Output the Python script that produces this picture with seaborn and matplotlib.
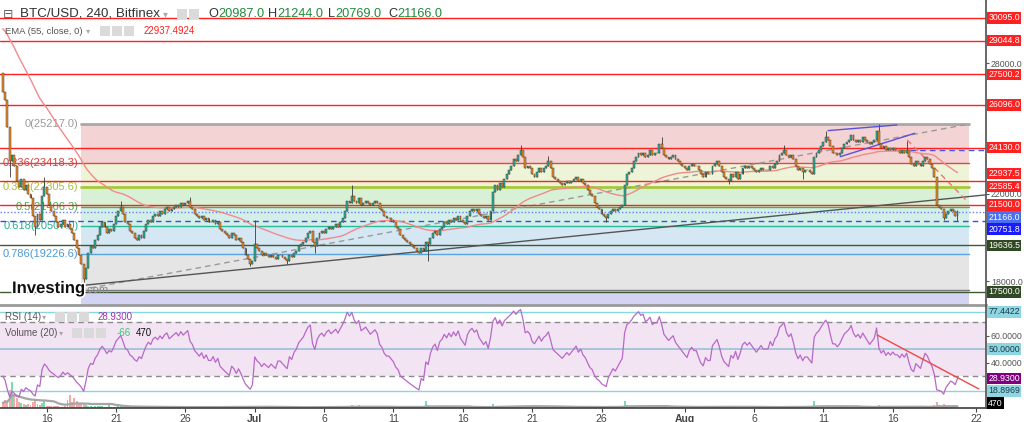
import numpy as np
import pandas as pd
import matplotlib
matplotlib.use("Agg")
import matplotlib.pyplot as plt
import matplotlib.dates as mdates
import matplotlib.patheffects as pe
from matplotlib.patches import Rectangle
import seaborn as sns

# ---------------- data (4h candles, BTC/USD Bitfinex) ----------------
first_open = 27560
closes = [
    26700,                                      # Jun 12 20:00
    26300, 25100, 23500, 23800, 23300, 22600,   # Jun 13
    22300, 22700, 22200, 22400, 22000, 21800,   # Jun 14
    21000, 20500, 21100, 20800, 21900, 22300,   # Jun 15
    22000, 21500, 21200, 21000, 20700, 20500,   # Jun 16
    20600, 20800, 20500, 20600, 20400, 20200,   # Jun 17
    19900, 19500, 19200, 18800, 18100, 18600,   # Jun 18
    19300, 19600, 19500, 19900, 20100, 20500,   # Jun 19
    20700, 20500, 20200, 20400, 20300, 20600,   # Jun 20
    21000, 21200, 21400, 21100, 20700, 20600,   # Jun 21
    20300, 20200, 20000, 19900, 20100, 20000,   # Jun 22
    20300, 20600, 20800, 20700, 21000, 21100,   # Jun 23
    21000, 21200, 21100, 21300, 21400, 21200,   # Jun 24
    21300, 21400, 21500, 21400, 21600, 21500,   # Jun 25
    21600, 21700, 21400, 21300, 21100, 21000,   # Jun 26
    20900, 21000, 20800, 20900, 20700, 20700,   # Jun 27
    20800, 20600, 20700, 20400, 20300, 20200,   # Jun 28
    20100, 20000, 20200, 20100, 19900, 20000,   # Jun 29
    19800, 19500, 19200, 19000, 18800, 18900,   # Jun 30
    19700, 19500, 19400, 19200, 19300, 19200,   # Jul 1
    19100, 19200, 19100, 19000, 19200, 19200,   # Jul 2
    19100, 19000, 18900, 19200, 19100, 19300,   # Jul 3
    19400, 19600, 19700, 19800, 20000, 20200,   # Jul 4
    20300, 19800, 19600, 20000, 20200, 20300,   # Jul 5
    20200, 20400, 20500, 20400, 20500, 20600,   # Jul 6
    20500, 20700, 20900, 21200, 21700, 21600,   # Jul 7
    21900, 21700, 21600, 21800, 21500, 21600,   # Jul 8
    21700, 21600, 21500, 21600, 21700, 21600,   # Jul 9
    21300, 21200, 21000, 20900, 20900, 20800,   # Jul 10
    20700, 20500, 20400, 20100, 20000, 19900,   # Jul 11
    19800, 19700, 19600, 19500, 19400, 19300,   # Jul 12
    19500, 19400, 19800, 19700, 20000, 20200,   # Jul 13
    20300, 20100, 20400, 20500, 20700, 20600,   # Jul 14
    20800, 20700, 20900, 20800, 21000, 20800,   # Jul 15
    20700, 20600, 21000, 21200, 21300, 21200,   # Jul 16
    21300, 21100, 21000, 20900, 21000, 20800,   # Jul 17
    21200, 22100, 22400, 22200, 22500, 22300,   # Jul 18
    22700, 22900, 23100, 23300, 23600, 23500,   # Jul 19
    23800, 24000, 23700, 23200, 23300, 23200,   # Jul 20
    22900, 22800, 23000, 23200, 23000, 23200,   # Jul 21
    23300, 23500, 23200, 22800, 22700, 22600,   # Jul 22
    22500, 22400, 22500, 22600, 22500, 22600,   # Jul 23
    22700, 22800, 22600, 22700, 22500, 22400,   # Jul 24
    22200, 22000, 21900, 21600, 21400, 21300,   # Jul 25
    21100, 21000, 20900, 21100, 21200, 21300,   # Jul 26
    21200, 21300, 21400, 21500, 22400, 22900,   # Jul 27
    23000, 23200, 23500, 23700, 23900, 23800,   # Jul 28
    23900, 23700, 23800, 24000, 23800, 23900,   # Jul 29
    23900, 24300, 24100, 23800, 23700, 23600,   # Jul 30
    23700, 23800, 23600, 23500, 23400, 23300,   # Jul 31
    23200, 23100, 23300, 23400, 23300, 23300,   # Aug 1
    23100, 22900, 22800, 23000, 22900, 22900,   # Aug 2
    23300, 23400, 23500, 23300, 23000, 22800,   # Aug 3
    22700, 22600, 22900, 22800, 23000, 22700,   # Aug 4
    22900, 23200, 23300, 23200, 23300, 23200,   # Aug 5
    23100, 23000, 23100, 23200, 23100, 23100,   # Aug 6
    23100, 23300, 23200, 23400, 23500, 23800,   # Aug 7
    23900, 24000, 23800, 23700, 23800, 23600,   # Aug 8
    23300, 23100, 23200, 23000, 23100, 23100,   # Aug 9
    23000, 22900, 23700, 23900, 24000, 24200,   # Aug 10
    24400, 24600, 24500, 24200, 23900, 23900,   # Aug 11
    23800, 23900, 24100, 24300, 24400, 24500,   # Aug 12
    24700, 24500, 24400, 24500, 24400, 24600,   # Aug 13
    24500, 24400, 24300, 24400, 24500, 24900,   # Aug 14
    24300, 24100, 24200, 24000, 24100, 24000,   # Aug 15
    24100, 24000, 24000, 23900, 24000, 23900,   # Aug 16
    24000, 23700, 23400, 23300, 23500, 23400,   # Aug 17
    23300, 23500, 23700, 23600, 23400, 23200,   # Aug 18
    22800, 21500, 21400, 21300, 20900, 21100,   # Aug 19
    21200, 21300, 21200, 20987, 21166,          # Aug 20
]
volumes = [
    2500,
    4000, 3000, 9000, 13000, 7000, 5000,
    3000, 2500, 2000, 1500, 2000, 1500,
    3000, 3500, 2000, 1500, 2500, 4000,
    1200, 900, 800, 1000, 1100, 900,
    700, 600, 800, 4000, 6500, 3000,
    5000, 3500, 2500, 2000, 2500, 1500,
    1200, 900, 700, 800, 1000, 900,
    800, 600, 700, 1500, 600, 500,
    700, 900, 1000, 600, 800, 500,
    500, 400, 600, 700, 500, 400,
    400, 500, 600, 500, 700, 400,
    500, 600, 400, 500, 600, 300,
    300, 400, 500, 400, 500, 300,
    400, 600, 500, 400, 500, 400,
    500, 400, 600, 500, 400, 500,
    400, 500, 700, 600, 500, 400,
    500, 400, 600, 700, 500, 400,
    600, 700, 800, 900, 700, 600,
    1200, 800, 600, 700, 500, 400,
    300, 300, 400, 300, 300, 200,
    300, 400, 300, 400, 300, 300,
    400, 500, 400, 600, 500, 400,
    600, 700, 500, 600, 500, 400,
    400, 500, 400, 500, 600, 400,
    500, 600, 700, 800, 1200, 600,
    1500, 900, 700, 1300, 800, 600,
    400, 300, 400, 300, 400, 300,
    400, 500, 400, 500, 400, 500,
    500, 600, 500, 700, 600, 500,
    600, 500, 700, 600, 500, 600,
    700, 600, 3500, 1500, 900, 800,
    600, 500, 700, 800, 600, 500,
    500, 400, 500, 600, 500, 400,
    400, 500, 400, 600, 500, 400,
    300, 400, 300, 400, 500, 400,
    1200, 1800, 900, 800, 1000, 700,
    800, 700, 900, 1100, 1000, 800,
    900, 1100, 800, 1000, 900, 700,
    700, 600, 800, 900, 700, 600,
    600, 900, 700, 800, 600, 500,
    400, 500, 400, 500, 400, 300,
    300, 400, 500, 400, 300, 400,
    500, 600, 700, 800, 600, 500,
    600, 700, 800, 700, 600, 500,
    500, 600, 500, 700, 3500, 1500,
    1200, 900, 1000, 1100, 900, 700,
    800, 700, 900, 800, 700, 600,
    500, 900, 600, 500, 400, 400,
    400, 500, 400, 500, 600, 500,
    600, 500, 700, 600, 500, 400,
    500, 600, 700, 800, 600, 500,
    500, 600, 500, 700, 800, 600,
    600, 700, 900, 600, 500, 500,
    500, 700, 800, 600, 500, 400,
    300, 400, 300, 400, 300, 300,
    300, 400, 500, 400, 500, 600,
    900, 1200, 800, 700, 600, 500,
    500, 600, 700, 600, 800, 500,
    600, 500, 3500, 1200, 900, 800,
    1000, 1200, 900, 800, 700, 600,
    600, 500, 700, 600, 500, 600,
    500, 400, 500, 400, 500, 400,
    400, 500, 400, 500, 600, 900,
    1500, 900, 700, 800, 700, 600,
    500, 600, 500, 600, 500, 400,
    700, 800, 700, 600, 500, 500,
    400, 500, 600, 500, 600, 800,
    1500, 3000, 1500, 1200, 1800, 900,
    700, 600, 500, 600, 470,
]
wick_high = {
    '2022-06-15 20:00': 22800, '2022-06-21 08:00': 21700, '2022-06-26 08:00': 21850,
    '2022-07-01 00:00': 20800, '2022-07-08 00:00': 22400, '2022-07-20 04:00': 24250,
    '2022-07-22 04:00': 23750, '2022-07-30 08:00': 24600, '2022-08-08 04:00': 24250,
    '2022-08-11 04:00': 24900, '2022-08-15 00:00': 25200, '2022-08-17 00:00': 24450,
    '2022-08-20 16:00': 21244,
}
wick_low = {
    '2022-06-13 08:00': 22800, '2022-06-15 04:00': 20100, '2022-06-18 16:00': 17600,
    '2022-06-30 16:00': 18700, '2022-07-03 08:00': 18800, '2022-07-05 08:00': 19300,
    '2022-07-13 12:00': 18900, '2022-07-26 08:00': 20700, '2022-08-04 04:00': 22450,
    '2022-08-09 12:00': 22700, '2022-08-19 16:00': 20800, '2022-08-20 16:00': 20769,
}
ema_seed = 29700.0
rsi_seed_gain, rsi_seed_loss = 80.0, 120.0

red_levels = [30095.0, 29044.8, 27500.2, 26096.0, 24130.0, 22585.4, 21500.0]
current_price = 21166.0
blue_dashed_level = 20751.8
green_levels = [19636.5, 17500.0]
short_blue_level = 24022.0

fib_high, fib_low = 25217.0, 17595.6
fib_ratios = [0, 0.236, 0.382, 0.5, 0.618, 0.786, 1.0]
fib_start, fib_end = '2022-06-18 11:00', '2022-08-21 12:00'

trend_solid = (['2022-06-18 15:00', '2022-08-22 17:00'], [17800, 21960])
wedge_upper = (['2022-08-11 08:00', '2022-08-16 07:00'], [24914, 25172])
wedge_lower = (['2022-08-12 05:00', '2022-08-17 14:00'], [23714, 24790])
red_dash_line = (['2022-08-17 01:00', '2022-08-21 10:00'], [24482, 21632])
rsi_trend = (['2022-08-14 21:00', '2022-08-22 05:00'], [60.4, 20.4])
rsi_hlines = [77.4422, 18.8969]

ohlc_last = [('O', '20987.0'), ('H', '21244.0'), ('L', '20769.0'), ('C', '21166.0')]
ema_last = '22937.4924'
rsi_last = 28.93
vol_ma_last = '-66'
vol_last = 470

month_ticks = ['2022-06-16', '2022-06-21', '2022-06-26', '2022-07-01', '2022-07-06',
               '2022-07-11', '2022-07-16', '2022-07-21', '2022-07-26', '2022-08-01',
               '2022-08-06', '2022-08-11', '2022-08-16', '2022-08-22']
month_labels = ['16', '21', '26', 'Jul', '6', '11', '16', '21', '26', 'Aug', '6', '11', '16', '22']

# ---------------- styles ----------------
sns.set_theme(style="white")
plt.rcParams['font.family'] = ['Liberation Sans', 'DejaVu Sans']

UP, DOWN, EDGE = '#22b39b', '#ee8a22', '#4a3a30'
RED = '#ff2020'

W, H = 1024, 422
fig = plt.figure(figsize=(W / 100, H / 100), dpi=100)
fig.patch.set_facecolor('white')
right_frac = 986 / W
ax = fig.add_axes([0, 1 - 305 / H, right_frac, 305 / H])
axr = fig.add_axes([0, 1 - 408 / H, right_frac, 103 / H], sharex=ax)

t = pd.date_range('2022-06-12 20:00', periods=len(closes), freq='4h')
x = mdates.date2num(t)
c = np.array(closes, float)
o = np.r_[first_open, c[:-1]]
hi = np.maximum(o, c)
lo = np.minimum(o, c)
for k, v in wick_high.items():
    i = t.get_loc(pd.Timestamp(k)); hi[i] = max(hi[i], v)
for k, v in wick_low.items():
    i = t.get_loc(pd.Timestamp(k)); lo[i] = min(lo[i], v)

xlim = mdates.date2num(pd.to_datetime(['2022-06-12 15:10', '2022-08-22 17:20']))
ax.set_xlim(*xlim)
ax.set_ylim(16897, 30918)

# ---- fib retracement ----
fx0, fx1 = mdates.date2num(pd.to_datetime([fib_start, fib_end]))
fib_prices = [fib_high - r * (fib_high - fib_low) for r in fib_ratios]
band_cols = ['#f3d3d3', '#eef4d7', '#d8f0d6', '#d4efe8', '#d5e7f3', '#e5e5e5']
line_cols = ['#a8a8a8', '#e04848', '#a8c83c', '#4cb050', '#2cb89a', '#5aa4dc', '#7a7a7a']
for i in range(len(fib_prices) - 1):
    ax.fill_between([fx0, fx1], fib_prices[i + 1], fib_prices[i], color=band_cols[i], lw=0, zorder=0)
ax.fill_between([fx0, fx1], 15000, fib_low, color='#d3d3f3', lw=0, zorder=0)
for i, (p, col) in enumerate(zip(fib_prices, line_cols)):
    lw = 2.0 if i in (0, 2) else 1.0
    ax.plot([fx0, fx1], [p, p], color=col, lw=lw, zorder=1)
ax.plot([xlim[0], fx0], [fib_prices[1]] * 2, color=line_cols[1], lw=1.0, zorder=1)
ax.plot([fx0, fx1], [fib_low, fib_high], color='#9a9a9a', lw=1.0, ls=(0, (4, 3)), zorder=2)
lab_cols = ['#9a9a9a', '#d84040', '#a2c236', '#40b048', '#28b090', '#4a9ad6', '#888888']
for r, p, col in zip(fib_ratios, fib_prices, lab_cols):
    r_txt = ('%g' % r)
    ax.text(fx0 - 0.15, p, f'{r_txt}({p:.1f})', color=col, fontsize=8, ha='right',
            va='center', zorder=1)

# ---- horizontal user lines ----
for p in red_levels:
    ax.axhline(p, color=RED, lw=1.0, zorder=2)
ax.axhline(current_price, color='#6a7cff', lw=1.0, ls=(0, (1, 1.5)), zorder=2)
ax.axhline(blue_dashed_level, color='#3a4cf0', lw=1.0, ls=(0, (4, 3)), zorder=2)
for p in green_levels:
    ax.axhline(p, color='#3f5a34', lw=1.0, zorder=2)
sb = mdates.date2num(pd.Timestamp('2022-08-17 06:00'))
ax.plot([sb, xlim[1]], [short_blue_level] * 2, color='#4455ee', lw=1.0, ls=(0, (4, 3)), zorder=2)

# ---- trend lines ----
def seg(a, spec, **kw):
    xs = mdates.date2num(pd.to_datetime(spec[0]))
    a.plot(xs, spec[1], **kw)
seg(ax, trend_solid, color='#555555', lw=1.0, zorder=2)
seg(ax, wedge_upper, color='#5a52d8', lw=1.0, zorder=5)
seg(ax, wedge_lower, color='#5a52d8', lw=1.0, zorder=5)
seg(ax, red_dash_line, color='#f07070', lw=1.0, ls=(0, (4, 3)), zorder=5)

# ---- EMA(55) ----
alpha = 2 / 56
ema = []
e = ema_seed
for v in c:
    e = e + alpha * (v - e)
    ema.append(e)
sns.lineplot(x=t, y=ema, ax=ax, color='#f28a8a', lw=1.0, zorder=3)

# ---- candles ----
up = c >= o
ax.vlines(x, lo, hi, colors='#3a3a3a', lw=0.6, zorder=4)
bw = 3.3 / 24
ax.bar(x[up], (c - o)[up], bottom=o[up], width=bw, color=UP, edgecolor=EDGE, linewidth=0.35, zorder=5)
ax.bar(x[~up], (c - o)[~up], bottom=o[~up], width=bw, color=DOWN, edgecolor=EDGE, linewidth=0.35, zorder=5)

# ---- axes cosmetics (main) ----
for s in ['top', 'left']:
    ax.spines[s].set_visible(False)
ax.spines['right'].set_color('#555555')
ax.spines['bottom'].set_color('#9a9a9a')
ax.spines['bottom'].set_linewidth(2)
ax.yaxis.tick_right()
ax.set_yticks([18000, 22000, 28000])
ax.set_yticklabels(['18000.0', '22000.0', '28000.0'])
ax.tick_params(axis='y', right=True, length=2.5, width=0.8, colors='#555555', labelsize=6.3, pad=1)
ax.tick_params(axis='x', bottom=False, labelbottom=False)
ax.set_xlabel(''); ax.set_ylabel('')

PX = 72 / 100  # points per pixel
def rlabel(a, val, txt, fc, tc='white', nudge=0):
    a.annotate(txt, xy=(1, val), xycoords=a.get_yaxis_transform(), xytext=(1.6, nudge * PX),
               textcoords='offset points', ha='left', va='center', fontsize=6.3, color=tc,
               bbox=dict(boxstyle='square,pad=0.14', fc=fc, ec='none'), annotation_clip=False, zorder=10)

rlabel(ax, 30095.0, '30095.0', RED)
rlabel(ax, 29044.8, '29044.8', RED)
rlabel(ax, 27500.2, '27500.2', RED)
rlabel(ax, 26096.0, '26096.0', RED)
rlabel(ax, 24130.0, '24130.0', RED)
rlabel(ax, 22937.5, '22937.5', RED)
rlabel(ax, 22585.4, '22585.4', RED, nudge=-5)
rlabel(ax, 21500.0, '21500.0', RED)
rlabel(ax, 21166.0, '21166.0', '#4b6ff0', nudge=-5)
rlabel(ax, 20751.8, '20751.8', '#1a1aff', nudge=-8)
rlabel(ax, 19636.5, '19636.5', '#2f4a22')
rlabel(ax, 17500.0, '17500.0', '#2f4a22')

# ---- RSI panel ----
diff = np.diff(np.r_[first_open, c])
g, l = rsi_seed_gain, rsi_seed_loss
rsi = []
for d in diff:
    g = (g * 13 + max(d, 0)) / 14
    l = (l * 13 + max(-d, 0)) / 14
    rsi.append(100 - 100 / (1 + g / l))

axr.set_ylim(6.3, 82.6)
axv = axr.twinx()
axv.set_ylim(0, 52000)
vup = np.array(up)
vol = np.array(volumes, float)
axv.bar(x[vup], vol[vup], width=bw, color='#4fcf8f', alpha=0.75, lw=0)
axv.bar(x[~vup], vol[~vup], width=bw, color='#f29a9a', alpha=0.85, lw=0)
vol_ma = pd.Series(vol).rolling(20, min_periods=1).mean().values
sns.lineplot(x=t, y=vol_ma, ax=axv, color='#a5a5a5', lw=1.6)
axv.set_yticks([]); axv.set_ylabel('')
for s in axv.spines.values():
    s.set_visible(False)
axr.set_zorder(axv.get_zorder() + 1)
axr.patch.set_visible(False)

axr.axhspan(30, 70, color='#f2e4f2', lw=0, zorder=0)
axr.axhline(70, color='#8a8a8a', lw=1.0, ls=(0, (4, 3)), zorder=1)
axr.axhline(30, color='#8a8a8a', lw=1.0, ls=(0, (4, 3)), zorder=1)
axr.axhline(50, color='#aac6dc', lw=1.4, zorder=1)
for v in rsi_hlines:
    axr.axhline(v, color='#8ad6e0', lw=1.0, zorder=1)
sns.lineplot(x=t, y=rsi, ax=axr, color='#b868c8', lw=0.9, zorder=3)
seg(axr, rsi_trend, color='#f04848', lw=1.0, zorder=4)

for s in ['top', 'left']:
    axr.spines[s].set_visible(False)
axr.spines['right'].set_color('#555555')
axr.spines['bottom'].set_color('#444444')
axr.yaxis.tick_right()
axr.set_yticks([40, 60])
axr.set_yticklabels(['40.0000', '60.0000'])
axr.tick_params(axis='y', right=True, length=2.5, width=0.8, colors='#555555', labelsize=6.3, pad=1)
axr.set_xticks(mdates.date2num(pd.to_datetime(month_ticks)))
axr.set_xticklabels(month_labels)
axr.tick_params(axis='x', bottom=True, length=3, width=0.8, colors='#444444', labelsize=7.5, pad=1)
for lab in axr.get_xticklabels():
    if lab.get_text() in ('Jul', 'Aug'):
        lab.set_fontweight('bold')
axr.set_xlabel(''); axr.set_ylabel('')
axr.set_xlim(*xlim)

rlabel(axr, 77.4422, '77.4422', '#8fd6e3', tc='#1c3a46')
rlabel(axr, 50.0, '50.0000', '#8fd6e3', tc='#1c3a46')
rlabel(axr, rsi_last, '28.9300', '#800080', nudge=-1)
rlabel(axr, 18.8969, '18.8969', '#8fd6e3', tc='#1c3a46')
rlabel(axv, vol_last, '470', '#000000', nudge=4)

# ---- header / legends ----
def fx(px): return px / W
def fy(py): return 1 - py / H
def icons(x0, yc, n):
    for k in range(n):
        fig.patches.append(Rectangle((fx(x0 + k * 12), fy(yc + 5)), 10 / W, 10 / H,
                                     transform=fig.transFigure, fc='#dadada', ec='none'))

fig.text(fx(3), fy(14), '⊟', fontsize=9, color='#666666', va='center', ha='left',
         family=['DejaVu Sans'])
fig.text(fx(20), fy(14), 'BTC/USD, 240, Bitfinex', fontsize=9.6, color='#333333', va='center')
fig.text(fx(163), fy(14), '▾', fontsize=7, color='#aaaaaa', va='center', family=['DejaVu Sans'])
icons(177, 14, 2)
xo = 208
for letter, val in ohlc_last:
    lt = fig.text(fx(xo), fy(14), letter, fontsize=9.2, color='#333333', va='center')
    fig.text(0, 0, val, fontsize=9.2, color='#1f8a3a', va='center', ha='left')
    fig.texts[-1].remove()
    fig.add_artist(matplotlib.text.Annotation(val, xy=(1.0, 0.5), xycoords=lt, xytext=(0.3, 0),
                                              textcoords='offset points', va='center', ha='left',
                                              fontsize=9.2, color='#1f8a3a'))
    xo += 60

fig.text(fx(5), fy(31), 'EMA (55, close, 0)', fontsize=6.8, color='#555555', va='center')
fig.text(fx(86), fy(31), '▾', fontsize=6, color='#aaaaaa', va='center', family=['DejaVu Sans'])
icons(100, 31, 3)
fig.text(fx(144), fy(31), ema_last, fontsize=7, color=RED, va='center')

fig.text(fx(5), fy(317), 'RSI (14)', fontsize=7, color='#555555', va='center')
fig.text(fx(42), fy(317), '▾', fontsize=6, color='#aaaaaa', va='center', family=['DejaVu Sans'])
icons(55, 317, 3)
fig.text(fx(98), fy(317), '%.4f' % rsi_last, fontsize=7, color='#a030b0', va='center')

fig.text(fx(5), fy(333), 'Volume (20)', fontsize=7, color='#555555', va='center')
fig.text(fx(59), fy(333), '▾', fontsize=6, color='#aaaaaa', va='center', family=['DejaVu Sans'])
icons(72, 333, 3)
fig.text(fx(117), fy(333), vol_ma_last, fontsize=7, color='#2ecc71', va='center')
fig.text(fx(136), fy(333), str(vol_last), fontsize=7, color='#111111', va='center')

logo = fig.text(fx(12), fy(293), 'Investing', fontsize=12, fontweight='bold', color='#111111',
                va='baseline', zorder=20)
logo.set_path_effects([pe.withStroke(linewidth=2.5, foreground='white')])
fig.text(fx(84), fy(293), '.com', fontsize=8, color='#888888', va='baseline', zorder=20)

fig.savefig('out.png', dpi=100, facecolor='white')
